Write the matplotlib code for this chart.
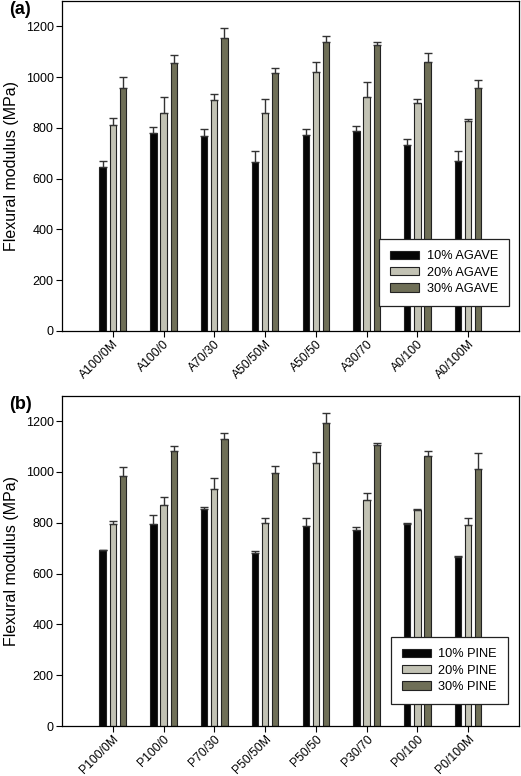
import matplotlib
matplotlib.use('Agg')
import matplotlib.pyplot as plt
import numpy as np

plt.rcParams['font.family'] = ['Liberation Sans', 'DejaVu Sans']

# panel (a) - agave
agave_labels = ['A100/0M', 'A100/0', 'A70/30', 'A50/50M', 'A50/50', 'A30/70', 'A0/100', 'A0/100M']
agave_10 = [644, 780, 769, 667, 771, 788, 733, 671]
agave_10_top = [668, 802, 797, 710, 794, 807, 755, 710]
agave_20 = [810, 860, 911, 860, 1020, 920, 899, 826]
agave_20_top = [839, 922, 935, 912, 1061, 981, 914, 836]
agave_30 = [958, 1056, 1154, 1017, 1140, 1126, 1059, 956]
agave_30_top = [999, 1088, 1193, 1036, 1162, 1140, 1095, 989]

# panel (b) - pine
pine_labels = ['P100/0M', 'P100/0', 'P70/30', 'P50/50M', 'P50/50', 'P30/70', 'P0/100', 'P0/100M']
pine_10 = [692, 796, 854, 682, 789, 772, 795, 667]
pine_10_top = [693, 830, 862, 688, 820, 783, 800, 668]
pine_20 = [796, 871, 932, 801, 1037, 890, 849, 791]
pine_20_top = [807, 900, 976, 817, 1078, 917, 853, 818]
pine_30 = [983, 1082, 1129, 996, 1192, 1105, 1061, 1013]
pine_30_top = [1020, 1103, 1154, 1025, 1234, 1116, 1083, 1075]

colors = ['#050505', '#c2c2b4', '#6f6f57']
width = 0.125
offsets = [-0.2, 0.0, 0.2]


def draw_panel(ax, labels, series, tops, names, letter, anchor):
    x = np.arange(1, len(labels) + 1)
    for k in range(3):
        vals = np.array(series[k])
        err = np.array(tops[k]) - vals
        ax.bar(x + offsets[k], vals, width, color=colors[k], edgecolor='#222222',
               linewidth=0.8, label=names[k], zorder=2)
        ax.errorbar(x + offsets[k], vals, yerr=[np.zeros_like(err), err], fmt='none',
                    ecolor='#333333', elinewidth=1.0, capsize=3.2, capthick=1.0, zorder=3)
    ax.set_xlim(0, 9)
    ax.set_ylim(0, 1300)
    ax.set_yticks([0, 200, 400, 600, 800, 1000, 1200])
    ax.set_xticks(x)
    ax.set_xticklabels(labels, rotation=45, ha='right', rotation_mode='anchor', fontsize=8.8)
    ax.tick_params(axis='y', labelsize=9, length=4, direction='out', pad=2)
    ax.tick_params(axis='x', length=4, direction='out', pad=1)
    ax.set_ylabel('Flexural modulus (MPa)', fontsize=11.5, labelpad=5)
    for s in ax.spines.values():
        s.set_linewidth(0.9)
    leg = ax.legend(loc='lower right', bbox_to_anchor=anchor, fontsize=9.2,
                    fancybox=False, framealpha=1, edgecolor='#222222',
                    handlelength=2.25, handleheight=0.6, borderpad=0.85,
                    labelspacing=0.35, handletextpad=0.6, borderaxespad=0)
    leg.get_frame().set_linewidth(0.9)
    ax.text(-0.115, 0.975, letter, transform=ax.transAxes, fontsize=13,
            fontweight='bold', ha='left', va='center')


fig = plt.figure(figsize=(5.21, 7.76), dpi=100)
ax1 = fig.add_axes([0.119, 0.5735, 0.877, 0.4253])
ax2 = fig.add_axes([0.119, 0.0644, 0.877, 0.4256])

draw_panel(ax1, agave_labels, [agave_10, agave_20, agave_30],
           [agave_10_top, agave_20_top, agave_30_top],
           ['10% AGAVE', '20% AGAVE', '30% AGAVE'], '(a)', (0.978, 0.076))
draw_panel(ax2, pine_labels, [pine_10, pine_20, pine_30],
           [pine_10_top, pine_20_top, pine_30_top],
           ['10% PINE', '20% PINE', '30% PINE'], '(b)', (0.976, 0.067))

fig.savefig('out.png', dpi=100)
